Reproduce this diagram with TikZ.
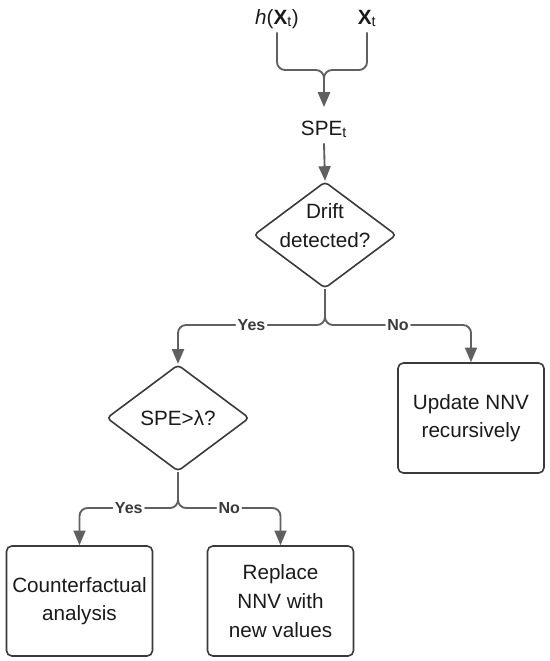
\documentclass[tikz,border=0pt]{standalone}
\usepackage{fontspec}
\setmainfont{Liberation Sans}
\usetikzlibrary{arrows.meta,shapes.geometric}
\definecolor{linegray}{HTML}{606060}
\definecolor{boxgray}{HTML}{3A3A3A}
\definecolor{inkblack}{HTML}{1A1A1A}
\newcommand\mainsize{\fontsize{15.5}{21.5}\selectfont}
\tikzset{
  flow/.style={draw=linegray,line width=1.4pt,rounded corners=6pt,-{Triangle[length=11pt,width=9pt]}},
  txt/.style={font=\mainsize,align=center,text=inkblack},
  toplab/.style={txt,anchor=base,text height=11pt,text depth=4pt,inner sep=2pt},
  decision/.style={diamond,draw=boxgray,line width=1.2pt,rounded corners=3pt,
    minimum width=107pt,minimum height=80pt,inner sep=0pt},
  process/.style={txt,rectangle,draw=boxgray,line width=1.2pt,rounded corners=4pt,
    minimum width=109.5pt,minimum height=82.5pt},
  lbl/.style={fill=white,font=\bfseries\fontsize{12}{14}\selectfont,text=boxgray,inner sep=1.5pt}
}
\begin{document}
\begin{tikzpicture}[x=0.75pt,y=-0.75pt]
\useasboundingbox (0,0) rectangle (550,661);
% inputs
\node[toplab] (hx) at (277,24) {\textit{h}(\textbf{X}\textsubscript{t})};
\node[toplab] (xt) at (367,24) {\textbf{X}\textsubscript{t}};
\coordinate (merge) at (324,70);
\node[toplab,text height=19pt] (spe) at (324,135) {SPE\textsubscript{t}};
% decisions
\node[decision,label={[txt,yshift=7pt]center:Drift\\detected?}] (drift) at (325,235) {};
\coordinate (split1) at (325,325);
\node[decision,label={[txt]center:SPE>λ?}] (gt) at (178,418) {};
\coordinate (split2) at (178,508);
% actions
\node[process] (upd) at (471,418) {Update NNV\\recursively};
\node[process] (cf) at (79.5,601) {Counterfactual\\analysis};
\node[process] (rep) at (280.5,601) {Replace\\NNV with\\new values};
% connectors
\draw[flow] (hx.south) |- (merge) -- (spe.north);
\draw[flow] (xt.south) |- (merge) -- (spe.north);
\draw[flow] (spe.south) -- (drift.north);
\draw[flow] (drift.south) -- (split1) -| node[lbl,pos=0.25]{Yes} (gt.north);
\draw[flow] (drift.south) -- (split1) -| node[lbl,pos=0.25]{No} (upd.north);
\draw[flow] (gt.south) -- (split2) -| node[lbl,pos=0.25]{Yes} (cf.north);
\draw[flow] (gt.south) -- (split2) -| node[lbl,pos=0.25]{No} (rep.north);
\end{tikzpicture}
\end{document}
